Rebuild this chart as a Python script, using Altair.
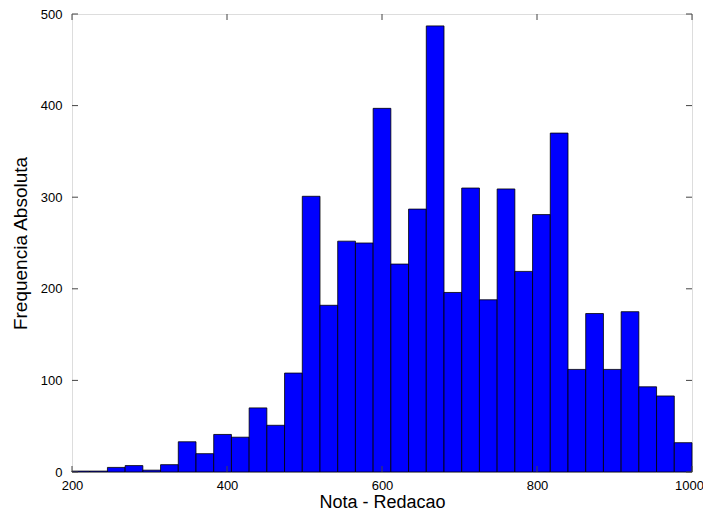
import altair as alt
import pandas as pd

# Histogram counts (35 equal bins from 200 to 1000)
counts = [1, 1, 5, 7, 2, 8, 33, 20, 41, 38, 70, 51, 108, 301, 182, 252, 250,
          397, 227, 287, 487, 196, 310, 188, 309, 219, 281, 370, 112, 173, 112,
          175, 93, 83, 32]
x_min, x_max = 200, 1000
x_ticks = [200, 400, 600, 800, 1000]
y_ticks = [0, 100, 200, 300, 400, 500]

n = len(counts)
w = (x_max - x_min) / n
bars = pd.DataFrame({
    "start": [x_min + i * w for i in range(n)],
    "end": [x_min + (i + 1) * w for i in range(n)],
    "count": counts,
})
xt = pd.DataFrame({"v": x_ticks})
yt = pd.DataFrame({"v": y_ticks})

W, H = 620, 458
FONT = "Liberation Sans"

xs = alt.Scale(domain=[x_min, x_max], nice=False, zero=False)
ys = alt.Scale(domain=[0, 500], nice=False)

base_bars = alt.Chart(bars).mark_rect(
    color="#0000FF", stroke="#000000", strokeWidth=0.8
).encode(
    x=alt.X("start:Q", scale=xs,
            axis=alt.Axis(values=x_ticks, title="Nota - Redacao", grid=False,
                          domain=False, ticks=False, labelFontSize=13,
                          labelPadding=7, titleFontSize=18, titleFontWeight="normal",
                          titlePadding=1, labelColor="#000", titleColor="#000",
                          labelFont=FONT, titleFont=FONT, format="d",
                          labelFlush=False, labelOverlap=False,
                          labelOffset={"expr": "datum.value == 1000 ? -3 : 0"})),
    x2="end:Q",
    y=alt.Y("count:Q", scale=ys,
            axis=alt.Axis(values=y_ticks, title="Frequencia Absoluta", grid=False,
                          domain=False, ticks=False, labelFontSize=13,
                          labelPadding=10, titleFontSize=19, titleFontWeight="normal",
                          titlePadding=10, labelColor="#000", titleColor="#000",
                          labelFont=FONT, titleFont=FONT, format="d",
                          labelFlush=False, labelOverlap=False)),
    y2=alt.datum(0),
)

tick_color = "#444444"
bottom_ticks = alt.Chart(xt).mark_rule(color=tick_color, strokeWidth=1).encode(
    x=alt.X("v:Q", scale=xs), y=alt.value(H), y2=alt.value(H - 6))
top_ticks = alt.Chart(xt).mark_rule(color=tick_color, strokeWidth=1).encode(
    x=alt.X("v:Q", scale=xs), y=alt.value(0), y2=alt.value(6))
left_ticks = alt.Chart(yt).mark_rule(color=tick_color, strokeWidth=1).encode(
    y=alt.Y("v:Q", scale=ys), x=alt.value(0), x2=alt.value(6))
right_ticks = alt.Chart(yt).mark_rule(color=tick_color, strokeWidth=1).encode(
    y=alt.Y("v:Q", scale=ys), x=alt.value(W), x2=alt.value(W - 6))

chart = alt.layer(base_bars, bottom_ticks, top_ticks, left_ticks, right_ticks).properties(
    width=W, height=H,
    autosize=alt.AutoSizeParams(type="none"),
    padding={"left": 64, "top": 6, "right": 11, "bottom": 40},
).configure_view(
    stroke="#555555", strokeWidth=1.2
).configure(background="white")

chart.save("out.html", embed_options={"renderer": "svg", "actions": False})
